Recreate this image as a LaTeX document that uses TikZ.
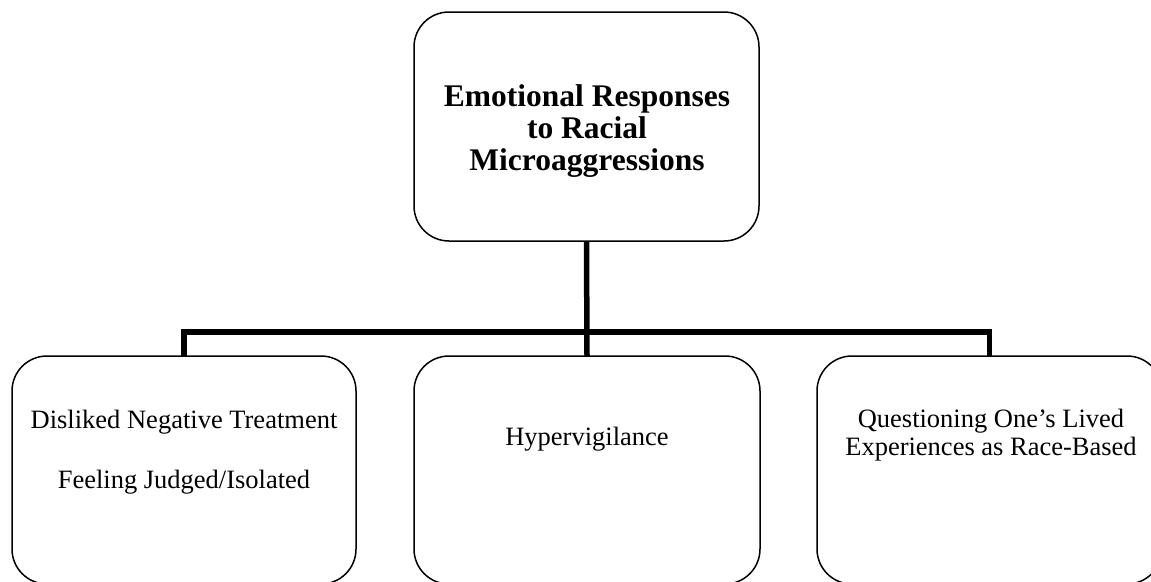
\documentclass[tikz,border=0pt]{standalone}
\usepackage{fontspec}
\setmainfont{Liberation Serif}
\begin{document}
\begin{tikzpicture}[x=1pt,y=-1pt,
  box/.style={draw=black, line width=1.5pt, rounded corners=35pt,
    rectangle, inner sep=0pt, outer sep=0pt, minimum height=228pt},
  conn/.style={draw=black, line width=5.5pt},
  headtext/.style={align=center, inner sep=0pt, font=\bfseries\fontsize{31.5}{32}\selectfont},
  leaftext/.style={align=center, inner sep=0pt, font=\fontsize{26.5}{27.5}\selectfont}]
\useasboundingbox (0,0) rectangle (1151,581);
\clip (0,0) rectangle (1151,581);

% boxes
\node[box, minimum width=345pt, minimum height=229pt] (top) at (586.5,126.5) {};
\node[box, minimum width=344pt] (b1) at (184,470) {};
\node[box, minimum width=346pt] (b2) at (587,470) {};
\node[box, minimum width=345pt] (b3) at (989.5,470) {};

% texts (anchor=base sits on the last line's baseline)
\node[headtext, anchor=base] (toptext) at (587,170)
  {Emotional Responses\\to Racial\\Microaggressions};
\node[leaftext, anchor=base] (b1text) at (184,488)
  {Disliked Negative Treatment\\[32.5pt]Feeling Judged/Isolated};
\node[leaftext, anchor=base] (b2text) at (587,445) {Hypervigilance};
\node[leaftext, anchor=base] (b3text) at (991,455)
  {Questioning One’s Lived\\Experiences as Race-Based};

% connectors
\coordinate (bar) at (0,332);
\draw[conn] (top.south) -- (b2.north);
\draw[conn] (b1.north) -- (b1.north |- bar) -- (b3.north |- bar) -- (b3.north);
\end{tikzpicture}
\end{document}
